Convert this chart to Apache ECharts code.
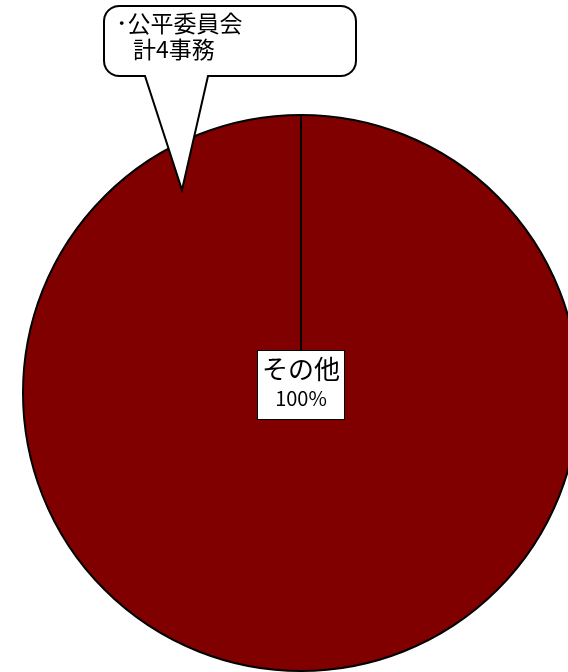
<!DOCTYPE html>
<html>
<head>
<meta charset="utf-8">
<script src="https://cdn.jsdelivr.net/npm/echarts@6/dist/echarts.min.js"></script>
<style>
html,body{margin:0;padding:0;background:#fff;}
#main{width:568px;height:672px;}
</style>
</head>
<body>
<div id="main"></div>
<script>
var names = ['その他'];
var values = [4];
var calloutLines = ['･公平委員会', '計4事務'];

var cx = 301, cy = 393, r = 278;      // 円の中心と半径
var font = '"Noto Sans CJK JP", sans-serif';

var myChart = echarts.init(document.getElementById('main'));

var data = [];
for (var i = 0; i < names.length; i++) {
	data.push({ name: names[i], value: values[i] });
}

// 吹き出しの輪郭（角丸＋しっぽ）
function bubble(x0, y0, x1, y1, rr, tl, tr, tx, ty) {
	var pts = [];
	function corner(ccx, ccy, a0) {
		for (var k = 0; k <= 6; k++) {
			var a = (a0 + k * 15) * Math.PI / 180;
			pts.push([ccx + rr * Math.cos(a), ccy + rr * Math.sin(a)]);
		}
	}
	corner(x0 + rr, y0 + rr, 180);
	corner(x1 - rr, y0 + rr, 270);
	corner(x1 - rr, y1 - rr, 0);
	pts.push([tr, y1], [tx, ty], [tl, y1]);
	corner(x0 + rr, y1 - rr, 90);
	return pts;
}

var option = {
	animation: false,
	backgroundColor: '#fff',
	series: [{
		type: 'pie',
		center: [cx, cy],
		radius: r,
		startAngle: 90,
		clockwise: true,
		silent: true,
		itemStyle: {
			color: '#800000',
			borderColor: '#000',
			borderWidth: 2
		},
		label: {
			show: true,
			position: 'center',
			offset: [0, -8],
			formatter: '{n|{b}}\n{p|{d}%}',
			backgroundColor: '#fff',
			borderColor: '#000',
			borderWidth: 1,
			padding: [5, 4, 6, 4],
			rich: {
				n: { fontFamily: font, fontSize: 26, color: '#000', lineHeight: 27, align: 'center' },
				p: { fontFamily: font, fontSize: 20, color: '#000', lineHeight: 30, align: 'center' }
			}
		},
		labelLine: { show: false },
		data: data
	}],
	graphic: [
		{
			// 扇形の区切り線（中心から真上へ）
			type: 'line',
			z: 10,
			shape: { x1: cx, y1: cy - r, x2: cx, y2: cy - 42 },
			style: { stroke: '#000', lineWidth: 2 }
		},
		{
			type: 'polygon',
			z: 10,
			shape: { points: bubble(104, 6, 356, 76, 15, 145, 208, 182, 190) },
			style: { fill: '#fff', stroke: '#000', lineWidth: 2 }
		},
		{
			type: 'text',
			z: 11,
			left: 116,
			top: 12,
			style: { text: calloutLines[0], font: '23px ' + font, fill: '#000' }
		},
		{
			type: 'text',
			z: 11,
			left: 133,
			top: 38,
			style: { text: calloutLines[1], font: '23px ' + font, fill: '#000' }
		}
	]
};

myChart.setOption(option);
</script>
</body>
</html>
